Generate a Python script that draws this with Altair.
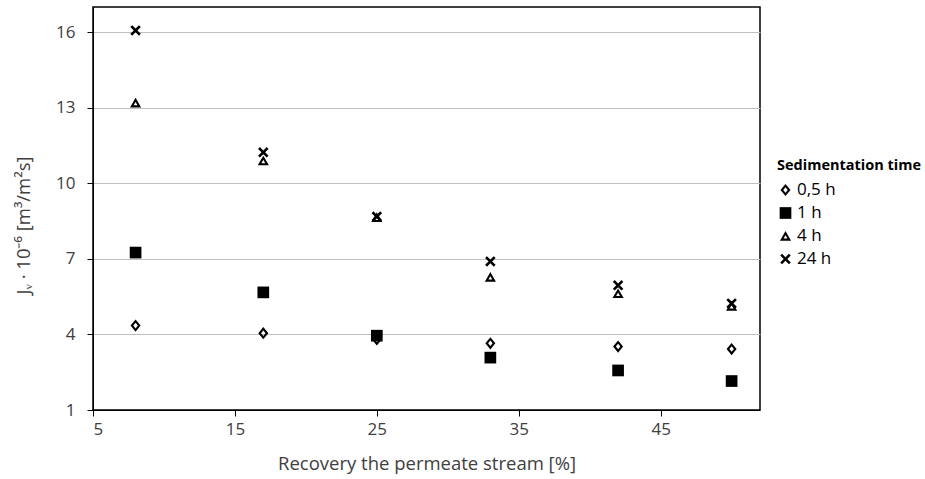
import altair as alt
import pandas as pd

recovery = [8, 17, 25, 33, 42, 50]
series = ["0,5 h", "1 h", "4 h", "24 h"]
jv_05h = [4.35, 4.05, 3.8, 3.65, 3.52, 3.42]
jv_1h = [7.25, 5.67, 3.95, 3.08, 2.57, 2.15]
jv_4h = [13.2, 10.9, 8.65, 6.28, 5.63, 5.13]
jv_24h = [16.07, 11.23, 8.68, 6.9, 5.95, 5.23]

rows = []
for name, vals in zip(series, [jv_05h, jv_1h, jv_4h, jv_24h]):
    for x, y in zip(recovery, vals):
        rows.append({"recovery": x, "jv": y, "series": name})
df = pd.DataFrame(rows)

# marker outlines (normalized to [-1, 1]); open shapes are rings with a hole
open_diamond = ("M0,-1L0.82,0L0,1L-0.82,0Z"
                "M0,-0.45L-0.37,0L0,0.45L0.37,0Z")
open_triangle = ("M0,-0.9L1,0.85L-1,0.85Z"
                 "M0,-0.14L-0.35,0.47L0.35,0.47Z")
filled_square = "square"
x_cross = ("M-1,-0.65L-0.65,-1L0,-0.35L0.65,-1L1,-0.65L0.35,0L1,0.65"
           "L0.65,1L0,0.35L-0.65,1L-1,0.65L-0.35,0Z")

font = "Open Sans"
legend_title = "Sedimentation time"

chart = alt.Chart(df).mark_point(filled=True, color="black", opacity=1, strokeWidth=0).encode(
    x=alt.X("recovery:Q",
            scale=alt.Scale(domain=[5, 52], nice=False, zero=False),
            axis=alt.Axis(values=[5, 15, 25, 35, 45], grid=False,
                          title="Recovery the permeate stream [%]")),
    y=alt.Y("jv:Q",
            scale=alt.Scale(domain=[1, 17], nice=False, zero=False),
            axis=alt.Axis(values=[1, 4, 7, 10, 13, 16], grid=True,
                          title="Jᵥ · 10⁻⁶ [m³/m²s]",
                          titleX=-70, titleY=218, titleAngle=270,
                          titleBaseline="middle", titleAlign="center")),
    shape=alt.Shape("series:N",
                    scale=alt.Scale(domain=series,
                                    range=[open_diamond, filled_square, open_triangle, x_cross]),
                    legend=alt.Legend(title=legend_title)),
    size=alt.Size("series:N",
                  scale=alt.Scale(domain=series, range=[150, 110, 145, 140]),
                  legend=alt.Legend(title=legend_title)),
).properties(
    width=667, height=403,
    autosize=alt.AutoSizeParams(type="none"),
    padding={"left": 93, "top": 7, "right": 165, "bottom": 69},
).configure_view(
    stroke="black", strokeWidth=1.5
).configure_axis(
    labelFont=font, titleFont=font,
    labelFontSize=17, titleFontSize=18.5, titleFontWeight="normal",
    labelColor="#404040", titleColor="#404040",
    domainColor="black", tickColor="black", tickSize=6,
    gridColor="#bfbfbf", gridWidth=1.2,
).configure_axisX(
    labelPadding=5, titlePadding=17,
).configure_axisY(
    labelPadding=12,
).configure_legend(
    orient="none", legendX=684, legendY=152,
    titleFont=font, labelFont=font,
    titleFontSize=14.5, titleFontWeight="bold", titleColor="black",
    labelFontSize=17, labelColor="black", rowPadding=5, titlePadding=8,
    symbolOffset=0, labelOffset=3, symbolFillColor="black", symbolStrokeWidth=0,
)

chart.save("out.html", embed_options={"renderer": "svg", "actions": False})
